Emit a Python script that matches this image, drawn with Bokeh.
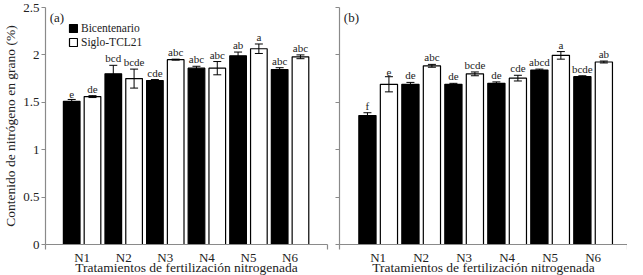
from bokeh.plotting import figure
from bokeh.layouts import row
from bokeh.models import (ColumnDataSource, Range1d, FixedTicker, Whisker, TeeHead,
                          Label, Legend, LegendItem, CustomJSTickFormatter)
from bokeh.embed import file_html
from bokeh.resources import INLINE
from bokeh.core.properties import value

# ---- data ----
treatments = ["N1", "N2", "N3", "N4", "N5", "N6"]
series = ["Bicentenario", "Siglo-TCL21"]

a_bic = [1.51, 1.80, 1.73, 1.86, 1.99, 1.845]
a_bic_err = [0.02, 0.09, 0.01, 0.02, 0.04, 0.02]
a_bic_let = ["e", "bcd", "cde", "abc", "ab", "abc"]
a_sig = [1.56, 1.75, 1.95, 1.86, 2.065, 1.98]
a_sig_err = [0.01, 0.10, 0.005, 0.07, 0.05, 0.02]
a_sig_let = ["de", "bcde", "abc", "abc", "a", "abc"]

b_bic = [1.36, 1.69, 1.69, 1.70, 1.84, 1.77]
b_bic_err = [0.03, 0.02, 0.01, 0.015, 0.01, 0.01]
b_bic_let = ["f", "de", "de", "de", "abcd", "bcde"]
b_sig = [1.69, 1.885, 1.80, 1.755, 1.995, 1.925]
b_sig_err = [0.08, 0.015, 0.02, 0.03, 0.04, 0.01]
b_sig_let = ["e", "abc", "bcde", "cde", "a", "ab"]

y_ticks = [0, 0.5, 1, 1.5, 2, 2.5]
y_tick_labels = ["0", "0.5", "1", "1.5", "2", "2.5"]

y_title = "Contenido de nitrógeno en grano (%)"
x_title = "Tratamientos de fertilización nitrogenada"

FONT = "'Liberation Serif', 'Times New Roman', serif"
AXIS_GREY = "#8a8a8a"
TXT = "#222222"


def make_panel(bic, bic_err, bic_let, sig, sig_err, sig_let, tag, is_left,
               width, x_start, x_end, border_left, border_right):
    p = figure(width=width, height=277, output_backend="svg", toolbar_location=None,
               x_range=Range1d(x_start, x_end), y_range=Range1d(0, 2.5),
               min_border_left=border_left, min_border_right=border_right,
               min_border_top=7, min_border_bottom=0)
    p.outline_line_color = None
    p.xgrid.visible = False
    p.ygrid.visible = False

    renderers = []
    for vals, errs, lets, off, fill in ((bic, bic_err, bic_let, -0.25, "black"),
                                        (sig, sig_err, sig_let, 0.25, "white")):
        xs = [i + 1 + off for i in range(len(treatments))]
        src = ColumnDataSource(dict(
            x=xs, top=vals,
            upper=[v + e for v, e in zip(vals, errs)],
            lower=[v - e for v, e in zip(vals, errs)],
            lab=lets))
        r = p.vbar(x="x", top="top", bottom=0, width=0.4, source=src,
                   fill_color=fill, line_color="black", line_width=1.2)
        renderers.append(r)
        w = Whisker(source=src, base="x", upper="upper", lower="lower",
                    dimension="height", line_color="black", line_width=1,
                    upper_head=TeeHead(size=8, line_color="black", line_width=1),
                    lower_head=TeeHead(size=8, line_color="black", line_width=1),
                    level="overlay")
        p.add_layout(w)
        p.text(x="x", y="upper", text="lab", source=src, text_align="center",
               text_baseline="bottom", y_offset=-1,
               text_font=value(FONT), text_font_size="11px", text_color=TXT)

    # axes
    p.xaxis.ticker = FixedTicker(ticks=[i + 1 for i in range(len(treatments))],
                                 minor_ticks=[x_start + 0.005, x_end - 0.005])
    p.xaxis.major_label_overrides = {i + 1: t for i, t in enumerate(treatments)}
    p.xaxis.major_tick_out = 0
    p.xaxis.major_tick_in = 0
    p.xaxis.minor_tick_out = 5
    p.xaxis.minor_tick_in = 0
    p.xaxis.minor_tick_line_color = AXIS_GREY
    p.xaxis.minor_tick_line_width = 1.2
    p.xaxis.major_label_standoff = 0
    p.xaxis.axis_label = x_title
    p.xaxis.axis_label_standoff = -8

    p.yaxis.ticker = FixedTicker(ticks=y_ticks)
    p.yaxis.major_tick_out = 4
    p.yaxis.major_tick_in = 0
    p.yaxis.minor_tick_out = 0
    p.yaxis.minor_tick_in = 0
    if is_left:
        p.yaxis.major_label_overrides = {t: l for t, l in zip(y_ticks, y_tick_labels)}
        p.yaxis.axis_label = y_title
        p.yaxis.axis_label_standoff = 2
        p.yaxis.major_label_standoff = 2
    else:
        p.yaxis.formatter = CustomJSTickFormatter(code="return ''")
        p.yaxis.major_label_standoff = 0

    for ax in (p.xaxis, p.yaxis):
        ax.axis_line_color = AXIS_GREY
        ax.axis_line_width = 1.2
        ax.major_tick_line_color = AXIS_GREY
        ax.major_tick_line_width = 1.2
        ax.major_label_text_font = FONT
        ax.major_label_text_font_size = "13px"
        ax.major_label_text_color = TXT
        ax.axis_label_text_font = FONT
        ax.axis_label_text_font_size = "13.5px"
        ax.axis_label_text_font_style = "normal"
        ax.axis_label_text_color = TXT

    p.add_layout(Label(x=x_start + 0.1, y=2.47, text=tag, text_font=FONT,
                       text_font_size="13px", text_baseline="top",
                       text_color=TXT))

    if is_left:
        legend = Legend(items=[LegendItem(label=series[0], renderers=[renderers[0]]),
                               LegendItem(label=series[1], renderers=[renderers[1]])],
                        location=(23, 196), orientation="vertical",
                        glyph_width=10, glyph_height=10, label_standoff=3,
                        spacing=2, padding=2, margin=0,
                        label_text_font=FONT, label_text_font_size="11.5px",
                        label_height=12, label_text_color=TXT,
                        border_line_color=None, background_fill_alpha=0)
        p.add_layout(legend)
    return p


p1 = make_panel(a_bic, a_bic_err, a_bic_let, a_sig, a_sig_err, a_sig_let, "(a)", True,
                332, 0.12, 6.9, 36, 5)
p2 = make_panel(b_bic, b_bic_err, b_bic_let, b_sig, b_sig_err, b_sig_let, "(b)", False,
                295, 0.1, 6.8, 7, 0)

layout = row(p1, p2)
open("out.html", "w").write(file_html(layout, INLINE))
